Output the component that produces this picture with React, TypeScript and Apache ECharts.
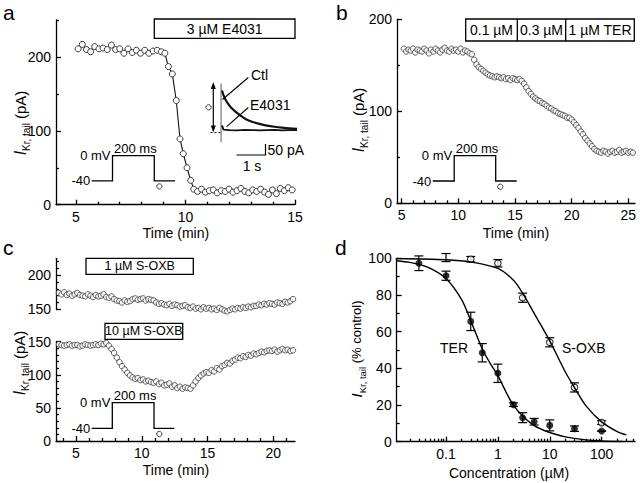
import React, { useEffect, useRef } from "react";
import * as echarts from "echarts";

const FONT = "'Liberation Sans', Arial, Helvetica, sans-serif";

// ---------- Panel a : 3 µM E4031 time course ----------
const aTimes = [
  5.1, 5.29, 5.48, 5.67, 5.86, 6.05, 6.24, 6.43, 6.62, 6.81, 7.0, 7.19, 7.38, 7.57, 7.76, 7.95, 8.14, 8.33, 8.52, 8.71, 8.9, 9.06,
  9.22, 9.4, 9.58, 9.75, 9.9, 10.07, 10.24, 10.38,
  10.55, 10.73, 10.91, 11.09, 11.27, 11.45, 11.63, 11.81, 11.99, 12.17, 12.35, 12.53, 12.71, 12.89, 13.07, 13.25, 13.43, 13.61,
  13.79, 13.97, 14.15, 14.33, 14.51, 14.69, 14.87,
];
const aCurrent = [
  211, 217, 210, 207, 214, 211, 212, 210, 216, 210, 211, 205, 211, 206, 209, 205, 209, 205, 208, 209, 207, 205,
  187, 177, 141, 89, 69, 50, 33, 21,
  18, 21, 17, 19, 20, 16, 19, 18, 21, 17, 19, 22, 18, 16, 20, 18, 21, 17, 14, 20, 15, 22, 19, 23, 20,
];

// inset current traces (time in s, current in pA)
const ctlTraceT = [0, 0.05, 0.1, 0.2, 0.3, 0.45, 0.6, 0.8, 1.0, 1.25, 1.5, 1.75, 2.0, 2.25, 2.5];
const ctlTraceI = [178, 158, 143, 122, 106, 88, 73, 56, 45, 36, 29, 24, 20, 17, 15];
const e4031TraceT = [0, 0.05, 0.25, 0.5, 0.75, 1.0, 1.25, 1.5, 1.75, 2.0, 2.25, 2.5];
const e4031TraceI = [30, 12, 10, 9, 11, 10, 9, 10, 11, 9, 10, 10];
const spikeT = [-0.03, -0.03];
const spikeI = [-42, 208];

// ---------- Panel b : terfenadine time course ----------
const bTimes = [
  5.2, 5.4, 5.6, 5.8, 6.0, 6.2, 6.4, 6.6, 6.8, 7.0, 7.2, 7.4, 7.6, 7.8, 8.0, 8.2, 8.4, 8.6, 8.8, 9.0, 9.2, 9.4, 9.6, 9.8, 10.0,
  10.2, 10.4, 10.6, 10.8, 11.0,
  11.2, 11.4, 11.6, 11.8, 12.0, 12.2, 12.4, 12.6, 12.8, 13.0, 13.2, 13.4, 13.6, 13.8, 14.0, 14.2, 14.4, 14.6, 14.8, 15.0, 15.2,
  15.4, 15.6,
  15.8, 16.0, 16.2, 16.4, 16.6, 16.8, 17.0, 17.2, 17.4, 17.6, 17.8, 18.0, 18.2, 18.4, 18.6, 18.8, 19.0, 19.2, 19.4, 19.6, 19.8, 20.0,
  20.2, 20.4, 20.6, 20.8, 21.0, 21.2, 21.4, 21.6, 21.8, 22.0, 22.2, 22.4,
  22.6, 22.8, 23.0, 23.2, 23.4, 23.6, 23.8, 24.0, 24.2, 24.4, 24.6, 24.8, 25.0, 25.2, 25.4,
];
const bCurrent = [
  168, 165, 167, 166, 168, 164, 167, 166, 165, 168, 166, 163, 167, 165, 168, 166, 164, 167, 169, 166, 165, 168, 166, 167, 165,
  168, 164, 166, 165, 163,
  162, 156, 151, 148, 146, 144, 142, 140, 139, 138, 137, 138, 137, 136, 137, 135, 136, 134, 136, 135, 134, 135, 133,
  130, 126, 122, 119, 116, 114, 112, 111, 109, 108, 106, 104, 103, 101, 100, 98, 97, 96, 95, 93, 93, 91,
  88, 85, 82, 78, 75, 71, 68, 65, 62, 59, 57, 56,
  55, 57, 56, 54, 56, 57, 55, 56, 58, 55, 56, 57, 55, 56, 55,
];

// ---------- Panel c : S-OXB time courses ----------
const cTimes = [
  3.7, 3.9, 4.1, 4.3, 4.5, 4.7, 4.9, 5.1, 5.3, 5.5, 5.7, 5.9, 6.1, 6.3, 6.5, 6.7, 6.9, 7.1, 7.3, 7.5, 7.7, 7.9, 8.1, 8.3, 8.5,
  8.7, 8.9, 9.1, 9.3, 9.5, 9.7, 9.9, 10.1, 10.3, 10.5, 10.7, 10.9, 11.1, 11.3, 11.5, 11.7, 11.9, 12.1, 12.3, 12.5, 12.7, 12.9,
  13.1, 13.3, 13.5, 13.7, 13.9, 14.1, 14.3, 14.5, 14.7, 14.9, 15.1, 15.3, 15.5, 15.7, 15.9, 16.1, 16.3, 16.5, 16.7, 16.9, 17.1,
  17.3, 17.5, 17.7, 17.9, 18.1, 18.3, 18.5, 18.7, 18.9, 19.1, 19.3, 19.5, 19.7, 19.9, 20.1, 20.3, 20.5, 20.7, 20.9, 21.1, 21.3,
  21.5,
];
const c1uM = [
  174, 172, 175, 171, 173, 170, 172, 174, 171, 170,
  169, 172, 170, 168, 171, 169, 170, 172, 168, 167, 169,
  165, 163, 162, 160, 163, 161, 162,
  165, 166, 164, 165, 166, 163, 165, 164, 163,
  160, 158, 159, 157, 156, 158, 155, 157, 156, 154, 155, 156,
  153, 152, 154, 151, 152, 150, 153, 151, 152, 150, 151, 149, 152, 150,
  148, 147, 149, 151, 150, 152, 151, 153, 152, 154, 153, 155,
  155, 157, 156, 158, 157, 159, 158, 157, 160, 159, 158, 161, 160, 162, 165,
];
const c10uM = [
  146, 145, 144, 145, 146, 144, 145, 145, 143, 144, 146, 145, 144, 145, 146, 145, 147, 146, 148,
  144, 139, 133, 126, 119, 113, 108, 103, 99,
  96, 94, 95, 92, 93, 90, 91, 89, 88,
  90, 86, 88, 84, 85, 87, 82, 84, 80, 82, 79, 81,
  80, 79, 84, 90, 95, 99, 102, 104, 103,
  107, 105, 110, 108, 113, 115, 118, 117, 121, 123, 126,
  125, 128, 127, 130, 129, 132, 131, 133, 135, 134, 136,
  137, 136, 138, 135, 137, 139, 137, 138, 136, 137,
];

// ---------- Panel d : concentration-response ----------
const terConc = [0.03, 0.1, 0.3, 0.5, 1, 2, 3, 5, 10, 30, 100];
const terMean = [97.3, 90.5, 65.6, 48.5, 37.3, 20.2, 13.1, 10.9, 8.9, 7.1, 5.8];
const terSem = [4, 2.5, 5, 5, 5, 1, 2.7, 1.8, 3, 1.5, 0];
const oxbConc = [0.1, 0.3, 1, 3, 10, 30, 100];
const oxbMean = [100.4, 99.5, 97.3, 78.5, 54.2, 29.6, 10.4];
const oxbSem = [2.2, 1.5, 2, 2.5, 2.5, 2.5, 1];
const terFitConc = [0.0112, 0.02, 0.03, 0.05, 0.1, 0.2, 0.3, 0.5, 0.7, 1, 1.5, 2, 3, 5, 10, 20, 30, 50, 100, 250];
const terFitPct = [98.7, 97.8, 96.7, 94.5, 89, 77.5, 66, 50.5, 43, 36, 26, 19.8, 14, 8.8, 5, 2.6, 1.8, 1, 0.4, 0.1];
const oxbFitConc = [0.0112, 0.1, 0.3, 1, 2, 3, 5, 10, 20, 30, 50, 100, 200, 300];
const oxbFitPct = [99.9, 99.2, 98, 94.5, 88, 81, 70, 55, 38, 29.5, 19.5, 10.8, 5.5, 3.7];

// ---------- tick lists ----------
const aXLabels = [5, 10, 15];
const aXMinor = [6, 7, 8, 9, 11, 12, 13, 14];
const aYLabels = [0, 100, 200];
const aYMinor = [50, 150, 250];
const bXLabels = [5, 10, 15, 20, 25];
const bXMinor = [6, 7, 8, 9, 11, 12, 13, 14, 16, 17, 18, 19, 21, 22, 23, 24];
const bYLabels = [0, 100, 200];
const bYMinor = [50, 150];
const cXLabels = [5, 10, 15, 20];
const cXMinor = [4, 6, 7, 8, 9, 11, 12, 13, 14, 16, 17, 18, 19, 21];
const cUpYLabels = [150, 200];
const cUpYMinor = [160, 170, 180, 190, 210, 220];
const cLoYLabels = [0, 50, 100, 150];
const cLoYMinor = [10, 20, 30, 40, 60, 70, 80, 90, 110, 120, 130, 140];
const dXLabels = [0.1, 1, 10, 100];
const dXMinor = [
  0.02, 0.03, 0.04, 0.05, 0.06, 0.07, 0.08, 0.09, 0.2, 0.3, 0.4, 0.5, 0.6, 0.7, 0.8, 0.9, 2, 3, 4, 5, 6, 7, 8, 9, 20, 30, 40,
  50, 60, 70, 80, 90, 200, 300, 400,
];
const dYLabels = [0, 20, 40, 60, 80, 100];
const dYMinor = [10, 30, 50, 70, 90];

type AxisSpec = {
  grid: number;
  min: number;
  max: number;
  labels?: number[];
  minor?: number[];
  type?: string;
  hidden?: boolean;
};

const LINE = { color: "#000", width: 1.3 };

function buildAxes(s: AxisSpec, dim: "x" | "y"): any[] {
  const base: any = {
    type: s.type || "value",
    gridIndex: s.grid,
    min: s.min,
    max: s.max,
    position: dim === "x" ? "bottom" : "left",
    splitLine: { show: false },
  };
  if (s.hidden) return [{ ...base, show: false }];
  const main = {
    ...base,
    axisLine: { show: true, onZero: false, lineStyle: LINE },
    axisTick: { show: true, inside: true, length: 5, customValues: s.labels, lineStyle: LINE },
    axisLabel: {
      show: true,
      customValues: s.labels,
      color: "#000",
      fontSize: 14,
      fontFamily: FONT,
      margin: 5,
      formatter: (v: number) => String(+Number(v).toPrecision(4)),
    },
  };
  const minor = {
    ...base,
    axisLine: { show: false, onZero: false },
    axisTick: { show: true, inside: true, length: 3, customValues: s.minor, lineStyle: LINE },
    axisLabel: { show: false },
  };
  return [main, minor];
}

const pairs = (xs: number[], ys: number[]) => xs.map((x, i) => [x, ys[i]]);
const bars = (xs: number[], m: number[], e: number[]) => xs.map((x, i) => [x, m[i] - e[i], m[i] + e[i]]);

const openCircle = { color: "#fff", borderColor: "#3a3a3a", borderWidth: 1 };

function errorBarSeries(data: number[][], xIdx: number, yIdx: number) {
  return {
    type: "custom",
    xAxisIndex: xIdx,
    yAxisIndex: yIdx,
    data,
    encode: { x: 0, y: [1, 2] },
    renderItem: (_p: any, api: any) => {
      const x = api.value(0);
      const lo = api.coord([x, api.value(1)]);
      const hi = api.coord([x, api.value(2)]);
      const hw = 4.5;
      const st = { stroke: "#000", lineWidth: 1.2 };
      return {
        type: "group",
        children: [
          { type: "line", shape: { x1: hi[0], y1: hi[1], x2: lo[0], y2: lo[1] }, style: st },
          { type: "line", shape: { x1: hi[0] - hw, y1: hi[1], x2: hi[0] + hw, y2: hi[1] }, style: st },
          { type: "line", shape: { x1: lo[0] - hw, y1: lo[1], x2: lo[0] + hw, y2: lo[1] }, style: st },
        ],
      };
    },
  };
}

function txt(x: number, y: number, text: string, opts: any = {}) {
  return {
    type: "text",
    x,
    y,
    z: 100,
    rotation: opts.rotation || 0,
    style: {
      text,
      fill: "#000",
      fontSize: opts.fontSize || 14,
      fontFamily: FONT,
      align: opts.align || "left",
      verticalAlign: "middle",
      rich: opts.rich,
    },
  };
}

function pline(points: number[][], opts: any = {}) {
  return {
    type: "polyline",
    z: 100,
    shape: { points },
    style: { stroke: opts.stroke || "#000", lineWidth: opts.lineWidth || 1.3, fill: null, lineDash: opts.lineDash },
  };
}

function box(x: number, y: number, w: number, h: number) {
  return { type: "rect", z: 99, shape: { x, y, width: w, height: h }, style: { fill: "#fff", stroke: "#000", lineWidth: 1.3 } };
}

function circ(cx: number, cy: number) {
  return { type: "circle", z: 100, shape: { cx, cy, r: 2.6 }, style: { fill: "#fff", stroke: "#3a3a3a", lineWidth: 1 } };
}

function yRich(iSize: number, sSize: number, nSize: number) {
  return {
    i: { fontSize: iSize, fontStyle: "italic", fontFamily: FONT, lineHeight: 22, verticalAlign: "middle" },
    s: { fontSize: sSize, fontFamily: FONT, lineHeight: 22, verticalAlign: "bottom" },
    n: { fontSize: nSize, fontFamily: FONT, lineHeight: 22, verticalAlign: "middle" },
  };
}

function yTitle(x: number, y: number, unit: string, rich: any) {
  return txt(x, y, `{i|I}{s|Kr, tail}{n| ${unit}}`, { rotation: Math.PI / 2, align: "center", rich });
}

function protocol(x0: number, xUp: number, xDown: number, x1: number, yLow: number, yHigh: number, cx: number, cy: number) {
  return [
    pline([[x0, yLow], [xUp, yLow], [xUp, yHigh], [xDown, yHigh], [xDown, yLow], [x1, yLow]]),
    txt(x0 - 1.5, yLow, "-40", { align: "right", fontSize: 13 }),
    txt(xUp - 2, yHigh - 0.5, "0 mV", { align: "right", fontSize: 13 }),
    txt(xUp + 1.5, yHigh - 7, "200 ms", { fontSize: 13 }),
    circ(cx, cy),
  ];
}

export default function App() {
  const ref = useRef<HTMLDivElement>(null);
  useEffect(() => {
    if (!ref.current) return;
    const chart = echarts.init(ref.current, undefined, { renderer: "svg" });

    const grids = [
      { left: 56, top: 20, width: 239, height: 184.7 }, // a
      { left: 219, top: 83, width: 78, height: 60 }, // a inset
      { left: 397, top: 19.3, width: 238, height: 184 }, // b
      { left: 56, top: 258.3, width: 239, height: 51 }, // c upper
      { left: 56, top: 341.7, width: 239, height: 99.3 }, // c lower
      { left: 396.7, top: 258.3, width: 238.3, height: 183.4 }, // d
    ].map((g) => ({ ...g, containLabel: false, outerBoundsMode: "none" }));

    const xAxis = [
      ...buildAxes({ grid: 0, min: 4.09, max: 15, labels: aXLabels, minor: aXMinor }, "x"), // 0,1
      ...buildAxes({ grid: 1, min: -0.1, max: 2.5, hidden: true }, "x"), // 2
      ...buildAxes({ grid: 2, min: 4.59, max: 25.59, labels: bXLabels, minor: bXMinor }, "x"), // 3,4
      ...buildAxes({ grid: 3, min: 3.48, max: 21.65, hidden: true }, "x"), // 5
      ...buildAxes({ grid: 4, min: 3.48, max: 21.65, labels: cXLabels, minor: cXMinor }, "x"), // 6,7
      ...buildAxes({ grid: 5, min: 0.0112, max: 440, type: "log", labels: dXLabels, minor: dXMinor }, "x"), // 8,9
    ];
    const yAxis = [
      ...buildAxes({ grid: 0, min: 0, max: 250, labels: aYLabels, minor: aYMinor }, "y"), // 0,1
      ...buildAxes({ grid: 1, min: -45, max: 210, hidden: true }, "y"), // 2
      ...buildAxes({ grid: 2, min: 0, max: 200, labels: bYLabels, minor: bYMinor }, "y"), // 3,4
      ...buildAxes({ grid: 3, min: 150, max: 225, labels: cUpYLabels, minor: cUpYMinor }, "y"), // 5,6
      ...buildAxes({ grid: 4, min: 0, max: 150, labels: cLoYLabels, minor: cLoYMinor }, "y"), // 7,8
      ...buildAxes({ grid: 5, min: 0, max: 100, labels: dYLabels, minor: dYMinor }, "y"), // 9,10
    ];

    const series: any[] = [
      {
        type: "line",
        xAxisIndex: 0,
        yAxisIndex: 0,
        data: pairs(aTimes, aCurrent),
        symbol: "circle",
        symbolSize: 6,
        showSymbol: true,
        lineStyle: { color: "#111", width: 1.1 },
        itemStyle: openCircle,
      },
      {
        type: "line",
        xAxisIndex: 2,
        yAxisIndex: 2,
        data: pairs(spikeT, spikeI),
        symbol: "none",
        lineStyle: { color: "#9a9a9a", width: 1.6 },
      },
      {
        type: "line",
        xAxisIndex: 2,
        yAxisIndex: 2,
        data: pairs(e4031TraceT, e4031TraceI),
        symbol: "none",
        lineStyle: { color: "#111", width: 1.8 },
      },
      {
        type: "line",
        xAxisIndex: 2,
        yAxisIndex: 2,
        data: pairs(ctlTraceT, ctlTraceI),
        symbol: "none",
        smooth: 0.3,
        lineStyle: { color: "#111", width: 2.2 },
      },
      {
        type: "scatter",
        xAxisIndex: 3,
        yAxisIndex: 3,
        data: pairs(bTimes, bCurrent),
        symbol: "circle",
        symbolSize: 5.5,
        itemStyle: openCircle,
      },
      {
        type: "scatter",
        xAxisIndex: 5,
        yAxisIndex: 5,
        data: pairs(cTimes, c1uM),
        symbol: "circle",
        symbolSize: 5.5,
        clip: false,
        itemStyle: openCircle,
      },
      {
        type: "scatter",
        xAxisIndex: 6,
        yAxisIndex: 7,
        data: pairs(cTimes, c10uM),
        symbol: "circle",
        symbolSize: 5.5,
        itemStyle: openCircle,
      },
      {
        type: "line",
        xAxisIndex: 8,
        yAxisIndex: 9,
        data: pairs(terFitConc, terFitPct),
        symbol: "none",
        smooth: 0.3,
        lineStyle: { color: "#000", width: 1.4 },
      },
      {
        type: "line",
        xAxisIndex: 8,
        yAxisIndex: 9,
        data: pairs(oxbFitConc, oxbFitPct),
        symbol: "none",
        smooth: 0.3,
        lineStyle: { color: "#000", width: 1.4 },
      },
      errorBarSeries(bars(terConc, terMean, terSem), 8, 9),
      errorBarSeries(bars(oxbConc, oxbMean, oxbSem), 8, 9),
      {
        type: "scatter",
        xAxisIndex: 8,
        yAxisIndex: 9,
        data: pairs(terConc, terMean),
        symbol: "circle",
        symbolSize: 7,
        itemStyle: { color: "#000" },
      },
      {
        type: "scatter",
        xAxisIndex: 8,
        yAxisIndex: 9,
        data: pairs(oxbConc, oxbMean),
        symbol: "circle",
        symbolSize: 6.5,
        itemStyle: { color: "#fff", borderColor: "#000", borderWidth: 1.1 },
      },
    ];

    const richPA = yRich(16, 10, 15);
    const richPct = yRich(15, 9.5, 13);

    const graphic: any[] = [
      // panel letters
      txt(3, 12, "a", { fontSize: 21 }),
      txt(336, 12, "b", { fontSize: 21 }),
      txt(3, 247.5, "c", { fontSize: 21 }),
      txt(335, 247.5, "d", { fontSize: 21 }),
      // axis titles
      txt(176, 233, "Time (min)", { align: "center" }),
      txt(516, 233, "Time (min)", { align: "center" }),
      txt(176, 470, "Time (min)", { align: "center" }),
      txt(509, 473, "Concentration (\u00b5M)", { align: "center" }),
      yTitle(20, 123, "(pA)", richPA),
      yTitle(358, 120, "(pA)", richPA),
      yTitle(19, 363, "(pA)", richPA),
      yTitle(356, 349, "(% control)", richPct),
      // panel a drug box
      box(154.3, 19, 140.7, 19.3),
      txt(224.7, 28.7, "3 \u00b5M E4031", { align: "center" }),
      // panel b drug boxes
      box(465.7, 19, 168.6, 22),
      pline([[517.3, 19], [517.3, 41]]),
      pline([[565.7, 19], [565.7, 41]]),
      txt(491.5, 30, "0.1 \u00b5M", { align: "center" }),
      txt(541.5, 30, "0.3 \u00b5M", { align: "center" }),
      txt(600, 30, "1 \u00b5M TER", { align: "center" }),
      // panel c boxes
      box(86, 258.3, 107.3, 16),
      txt(139.7, 266.3, "1 \u00b5M S-OXB", { align: "center", fontSize: 12.5 }),
      box(105, 323.3, 77.7, 16),
      txt(143.8, 331.3, "10 \u00b5M S-OXB", { align: "center", fontSize: 12.5 }),
      // panel d curve labels
      txt(454, 348, "TER", { align: "center" }),
      txt(583.7, 348, "S-OXB", { align: "center" }),
      // panel a inset annotations
      pline([[213.3, 86], [213.3, 128.5]], { lineWidth: 1.2 }),
      { type: "polygon", z: 100, shape: { points: [[213.3, 82], [210.8, 89], [215.8, 89]] }, style: { fill: "#000" } },
      { type: "polygon", z: 100, shape: { points: [[213.3, 132.4], [210.8, 125.4], [215.8, 125.4]] }, style: { fill: "#000" } },
      pline([[210.5, 132.6], [221, 132.6]], { lineWidth: 1, lineDash: [2, 2] }),
      circ(208.6, 107.3),
      pline([[248.3, 77.5], [222.5, 99.5]], { lineWidth: 1.1 }),
      pline([[248.3, 107.5], [226.7, 126.7]], { lineWidth: 1.1 }),
      txt(251, 74.5, "Ctl"),
      txt(250, 104.5, "E4031"),
      pline([[236.5, 155], [265.5, 155], [265.5, 144]], { lineWidth: 1.2 }),
      txt(267.5, 150, "50 pA"),
      txt(252, 166, "1 s", { align: "center" }),
      // voltage protocols
      ...protocol(91.7, 112.5, 154.3, 175, 180.8, 155.7, 159.4, 186.4),
      ...protocol(432.7, 454.2, 495.7, 516.7, 181, 155.7, 500.3, 186.7),
      ...protocol(91.7, 112.3, 154, 174.3, 428.3, 402.7, 159.3, 434),
    ];

    chart.setOption({
      animation: false,
      backgroundColor: "#fff",
      textStyle: { fontFamily: FONT },
      grid: grids,
      xAxis,
      yAxis,
      series,
      graphic,
    });
    return () => chart.dispose();
  }, []);

  return <div ref={ref} style={{ position: "fixed", left: 0, top: 0, width: 640, height: 483, background: "#fff" }} />;
}
